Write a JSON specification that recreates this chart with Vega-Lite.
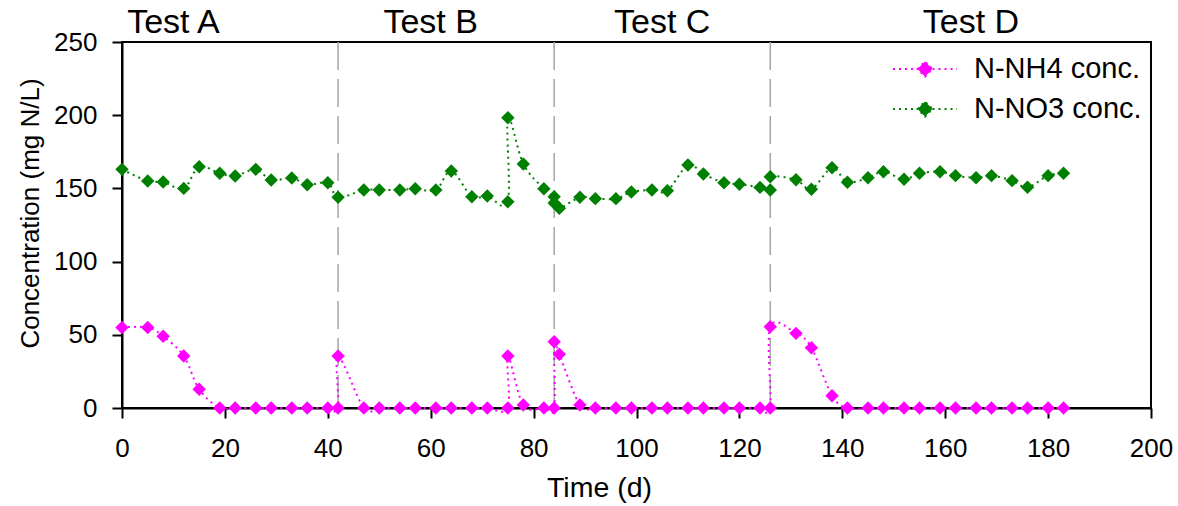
{
  "$schema": "https://vega.github.io/schema/vega-lite/v6.json",
  "width": 1029,
  "height": 366,
  "autosize": {"type": "none"},
  "padding": {"left": 122, "top": 42, "right": 27, "bottom": 98},
  "background": "white",
  "config": {
    "font": "Liberation Sans",
    "view": {"stroke": "#000", "strokeWidth": 2},
    "axis": {
      "domainColor": "#000", "domainWidth": 2,
      "tickColor": "#000", "tickWidth": 2, "tickSize": 10,
      "labelFont": "Liberation Sans", "labelFontSize": 26, "labelColor": "#000", "labelFlush": false, "labelOverlap": false,
      "titleFont": "Liberation Sans", "titleFontSize": 27, "titleFontWeight": "normal", "titleColor": "#000",
      "grid": false
    },
    "legend": {
      "labelFont": "Liberation Sans", "labelFontSize": 29, "labelColor": "#000", "labelLimit": 400,
      "padding": 0
    }
  },
  "datasets": {
    "conc": [
      {"s": "N-NH4 conc.", "i": 0, "t": 0, "c": 55},
      {"s": "N-NH4 conc.", "i": 1, "t": 5, "c": 55},
      {"s": "N-NH4 conc.", "i": 2, "t": 8, "c": 49},
      {"s": "N-NH4 conc.", "i": 3, "t": 12, "c": 35.5},
      {"s": "N-NH4 conc.", "i": 4, "t": 15, "c": 12.8},
      {"s": "N-NH4 conc.", "i": 5, "t": 19, "c": 0},
      {"s": "N-NH4 conc.", "i": 6, "t": 22, "c": 0},
      {"s": "N-NH4 conc.", "i": 7, "t": 26, "c": 0},
      {"s": "N-NH4 conc.", "i": 8, "t": 29, "c": 0},
      {"s": "N-NH4 conc.", "i": 9, "t": 33, "c": 0},
      {"s": "N-NH4 conc.", "i": 10, "t": 36, "c": 0},
      {"s": "N-NH4 conc.", "i": 11, "t": 40, "c": 0},
      {"s": "N-NH4 conc.", "i": 12, "t": 42, "c": 0},
      {"s": "N-NH4 conc.", "i": 13, "t": 42, "c": 35.5},
      {"s": "N-NH4 conc.", "i": 14, "t": 47, "c": 0},
      {"s": "N-NH4 conc.", "i": 15, "t": 50, "c": 0},
      {"s": "N-NH4 conc.", "i": 16, "t": 54, "c": 0},
      {"s": "N-NH4 conc.", "i": 17, "t": 57, "c": 0},
      {"s": "N-NH4 conc.", "i": 18, "t": 61, "c": 0},
      {"s": "N-NH4 conc.", "i": 19, "t": 64, "c": 0},
      {"s": "N-NH4 conc.", "i": 20, "t": 68, "c": 0},
      {"s": "N-NH4 conc.", "i": 21, "t": 71, "c": 0},
      {"s": "N-NH4 conc.", "i": 22, "t": 75, "c": 0},
      {"s": "N-NH4 conc.", "i": 23, "t": 75, "c": 35.5},
      {"s": "N-NH4 conc.", "i": 24, "t": 78, "c": 2},
      {"s": "N-NH4 conc.", "i": 25, "t": 82, "c": 0},
      {"s": "N-NH4 conc.", "i": 26, "t": 84, "c": 0},
      {"s": "N-NH4 conc.", "i": 27, "t": 84, "c": 45.3},
      {"s": "N-NH4 conc.", "i": 28, "t": 85, "c": 36.7},
      {"s": "N-NH4 conc.", "i": 29, "t": 89, "c": 2},
      {"s": "N-NH4 conc.", "i": 30, "t": 92, "c": 0},
      {"s": "N-NH4 conc.", "i": 31, "t": 96, "c": 0},
      {"s": "N-NH4 conc.", "i": 32, "t": 99, "c": 0},
      {"s": "N-NH4 conc.", "i": 33, "t": 103, "c": 0},
      {"s": "N-NH4 conc.", "i": 34, "t": 106, "c": 0},
      {"s": "N-NH4 conc.", "i": 35, "t": 110, "c": 0},
      {"s": "N-NH4 conc.", "i": 36, "t": 113, "c": 0},
      {"s": "N-NH4 conc.", "i": 37, "t": 117, "c": 0},
      {"s": "N-NH4 conc.", "i": 38, "t": 120, "c": 0},
      {"s": "N-NH4 conc.", "i": 39, "t": 124, "c": 0},
      {"s": "N-NH4 conc.", "i": 40, "t": 126, "c": 0},
      {"s": "N-NH4 conc.", "i": 41, "t": 126, "c": 55.5},
      {"s": "N-NH4 conc.", "i": 42, "t": 131, "c": 51},
      {"s": "N-NH4 conc.", "i": 43, "t": 134, "c": 41.2},
      {"s": "N-NH4 conc.", "i": 44, "t": 138, "c": 8.4},
      {"s": "N-NH4 conc.", "i": 45, "t": 141, "c": 0},
      {"s": "N-NH4 conc.", "i": 46, "t": 145, "c": 0},
      {"s": "N-NH4 conc.", "i": 47, "t": 148, "c": 0},
      {"s": "N-NH4 conc.", "i": 48, "t": 152, "c": 0},
      {"s": "N-NH4 conc.", "i": 49, "t": 155, "c": 0},
      {"s": "N-NH4 conc.", "i": 50, "t": 159, "c": 0},
      {"s": "N-NH4 conc.", "i": 51, "t": 162, "c": 0},
      {"s": "N-NH4 conc.", "i": 52, "t": 166, "c": 0},
      {"s": "N-NH4 conc.", "i": 53, "t": 169, "c": 0},
      {"s": "N-NH4 conc.", "i": 54, "t": 173, "c": 0},
      {"s": "N-NH4 conc.", "i": 55, "t": 176, "c": 0},
      {"s": "N-NH4 conc.", "i": 56, "t": 180, "c": 0},
      {"s": "N-NH4 conc.", "i": 57, "t": 183, "c": 0},
      {"s": "N-NO3 conc.", "i": 0, "t": 0, "c": 163},
      {"s": "N-NO3 conc.", "i": 1, "t": 5, "c": 155},
      {"s": "N-NO3 conc.", "i": 2, "t": 8, "c": 154.4},
      {"s": "N-NO3 conc.", "i": 3, "t": 12, "c": 150},
      {"s": "N-NO3 conc.", "i": 4, "t": 15, "c": 164.8},
      {"s": "N-NO3 conc.", "i": 5, "t": 19, "c": 160.3},
      {"s": "N-NO3 conc.", "i": 6, "t": 22, "c": 158.5},
      {"s": "N-NO3 conc.", "i": 7, "t": 26, "c": 163},
      {"s": "N-NO3 conc.", "i": 8, "t": 29, "c": 155.7},
      {"s": "N-NO3 conc.", "i": 9, "t": 33, "c": 157.1},
      {"s": "N-NO3 conc.", "i": 10, "t": 36, "c": 152.5},
      {"s": "N-NO3 conc.", "i": 11, "t": 40, "c": 153.9},
      {"s": "N-NO3 conc.", "i": 12, "t": 42, "c": 143.9},
      {"s": "N-NO3 conc.", "i": 13, "t": 47, "c": 148.9},
      {"s": "N-NO3 conc.", "i": 14, "t": 50, "c": 148.9},
      {"s": "N-NO3 conc.", "i": 15, "t": 54, "c": 148.9},
      {"s": "N-NO3 conc.", "i": 16, "t": 57, "c": 149.8},
      {"s": "N-NO3 conc.", "i": 17, "t": 61, "c": 148.9},
      {"s": "N-NO3 conc.", "i": 18, "t": 64, "c": 161.9},
      {"s": "N-NO3 conc.", "i": 19, "t": 68, "c": 144.3},
      {"s": "N-NO3 conc.", "i": 20, "t": 71, "c": 144.8},
      {"s": "N-NO3 conc.", "i": 21, "t": 75, "c": 140.9},
      {"s": "N-NO3 conc.", "i": 22, "t": 75, "c": 198.3},
      {"s": "N-NO3 conc.", "i": 23, "t": 78, "c": 166.7},
      {"s": "N-NO3 conc.", "i": 24, "t": 82, "c": 149.8},
      {"s": "N-NO3 conc.", "i": 25, "t": 84, "c": 144.3},
      {"s": "N-NO3 conc.", "i": 26, "t": 84, "c": 140},
      {"s": "N-NO3 conc.", "i": 27, "t": 85, "c": 136.4},
      {"s": "N-NO3 conc.", "i": 28, "t": 89, "c": 143.9},
      {"s": "N-NO3 conc.", "i": 29, "t": 92, "c": 143},
      {"s": "N-NO3 conc.", "i": 30, "t": 96, "c": 143},
      {"s": "N-NO3 conc.", "i": 31, "t": 99, "c": 147.5},
      {"s": "N-NO3 conc.", "i": 32, "t": 103, "c": 148.9},
      {"s": "N-NO3 conc.", "i": 33, "t": 106, "c": 148.4},
      {"s": "N-NO3 conc.", "i": 34, "t": 110, "c": 166},
      {"s": "N-NO3 conc.", "i": 35, "t": 113, "c": 159.8},
      {"s": "N-NO3 conc.", "i": 36, "t": 117, "c": 153.9},
      {"s": "N-NO3 conc.", "i": 37, "t": 120, "c": 152.8},
      {"s": "N-NO3 conc.", "i": 38, "t": 124, "c": 150.7},
      {"s": "N-NO3 conc.", "i": 39, "t": 126, "c": 148.9},
      {"s": "N-NO3 conc.", "i": 40, "t": 126, "c": 158},
      {"s": "N-NO3 conc.", "i": 41, "t": 131, "c": 155.9},
      {"s": "N-NO3 conc.", "i": 42, "t": 134, "c": 149.4},
      {"s": "N-NO3 conc.", "i": 43, "t": 138, "c": 164.1},
      {"s": "N-NO3 conc.", "i": 44, "t": 141, "c": 154.2},
      {"s": "N-NO3 conc.", "i": 45, "t": 145, "c": 157.3},
      {"s": "N-NO3 conc.", "i": 46, "t": 148, "c": 161.4},
      {"s": "N-NO3 conc.", "i": 47, "t": 152, "c": 156.2},
      {"s": "N-NO3 conc.", "i": 48, "t": 155, "c": 160.3},
      {"s": "N-NO3 conc.", "i": 49, "t": 159, "c": 161.4},
      {"s": "N-NO3 conc.", "i": 50, "t": 162, "c": 158.7},
      {"s": "N-NO3 conc.", "i": 51, "t": 166, "c": 157.3},
      {"s": "N-NO3 conc.", "i": 52, "t": 169, "c": 158.7},
      {"s": "N-NO3 conc.", "i": 53, "t": 173, "c": 155.3},
      {"s": "N-NO3 conc.", "i": 54, "t": 176, "c": 150.8},
      {"s": "N-NO3 conc.", "i": 55, "t": 180, "c": 158.7},
      {"s": "N-NO3 conc.", "i": 56, "t": 183, "c": 160.3}
    ],
    "bounds": [{"t": 42}, {"t": 84}, {"t": 126}],
    "tests": [
      {"label": "Test A", "t": 10, "v": 256},
      {"label": "Test B", "t": 60, "v": 256},
      {"label": "Test C", "t": 105, "v": 256},
      {"label": "Test D", "t": 165, "v": 256}
    ]
  },
  "layer": [
    {
      "data": {"name": "bounds"},
      "mark": {"type": "rule", "color": "#A6A6A6", "strokeWidth": 1.5, "strokeDash": [28, 9]},
      "encoding": {
        "x": {"field": "t", "type": "quantitative", "scale": {"domain": [0, 200], "nice": false},
          "axis": {"values": [0, 20, 40, 60, 80, 100, 120, 140, 160, 180, 200], "labelPadding": 17, "title": "Time (d)", "titlePadding": 12, "titleFontSize": 28.5, "titleX": 477, "titleAlign": "center"}}
      }
    },
    {
      "data": {"name": "conc"},
      "mark": {"type": "line", "interpolate": "cardinal", "strokeWidth": 2, "strokeDash": [2, 4]},
      "encoding": {
        "x": {"field": "t", "type": "quantitative"},
        "y": {"field": "c", "type": "quantitative", "scale": {"domain": [0, 250], "nice": false},
          "axis": {"values": [0, 50, 100, 150, 200, 250], "labelPadding": 15, "title": "Concentration (mg N/L)", "titlePadding": 10, "titleFontSize": 26, "titleY": 171, "titleAlign": "center"}},
        "order": {"field": "i", "type": "quantitative"},
        "color": {"field": "s", "type": "nominal", "scale": {"domain": ["N-NH4 conc.", "N-NO3 conc."], "range": ["#FF00FF", "#008000"]},
          "legend": {
            "title": null, "orient": "none", "legendX": 786, "legendY": 10,
            "symbolType": "M-2,0L-0.47,0M0.47,0L2,0M-0.47,0L0,-0.47L0.47,0L0,0.47Z",
            "symbolSize": 1024, "symbolStrokeWidth": 2, "symbolDash": [2, 4], "symbolOpacity": 1,
            "labelOffset": 32, "rowPadding": 8,
            "encode": {"symbols": {"update": {
              "fill": {"scale": "color", "field": "value"},
              "stroke": {"scale": "color", "field": "value"},
              "strokeDash": {"value": [2, 4]},
              "strokeWidth": {"value": 2},
              "opacity": {"value": 1}
            }}}
          }}
      }
    },
    {
      "data": {"name": "conc"},
      "mark": {"type": "point", "shape": "diamond", "filled": true, "size": 180, "opacity": 1},
      "encoding": {
        "x": {"field": "t", "type": "quantitative"},
        "y": {"field": "c", "type": "quantitative"},
        "color": {"field": "s", "type": "nominal",
          "legend": {
            "title": null, "orient": "none", "legendX": 786, "legendY": 10,
            "symbolType": "M-2,0L-0.47,0M0.47,0L2,0M-0.47,0L0,-0.47L0.47,0L0,0.47Z",
            "symbolSize": 1024, "symbolStrokeWidth": 2, "symbolDash": [2, 4], "symbolOpacity": 1,
            "labelOffset": 32, "rowPadding": 8,
            "encode": {"symbols": {"update": {
              "fill": {"scale": "color", "field": "value"},
              "stroke": {"scale": "color", "field": "value"},
              "strokeDash": {"value": [2, 4]},
              "strokeWidth": {"value": 2},
              "opacity": {"value": 1}
            }}}
          }}
      }
    },
    {
      "data": {"name": "tests"},
      "mark": {"type": "text", "fontSize": 34, "font": "Liberation Sans", "align": "center", "baseline": "alphabetic", "color": "#000"},
      "encoding": {
        "x": {"field": "t", "type": "quantitative"},
        "y": {"field": "v", "type": "quantitative"},
        "text": {"field": "label", "type": "nominal"}
      }
    }
  ]
}
